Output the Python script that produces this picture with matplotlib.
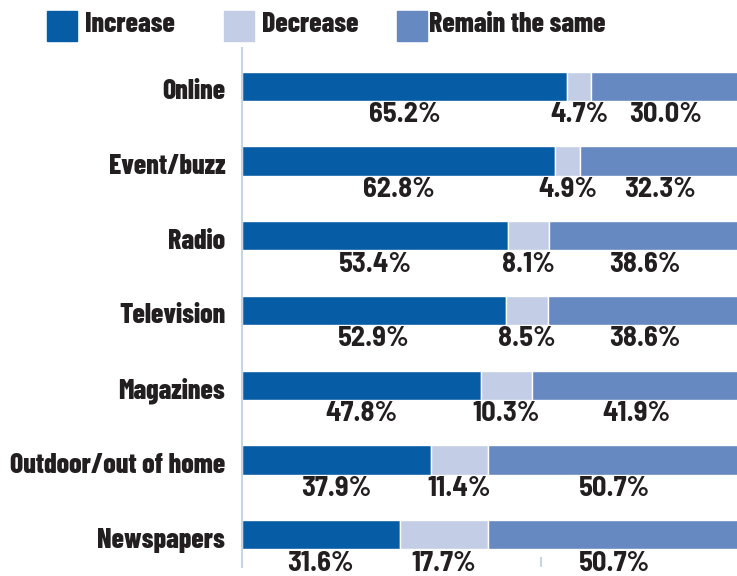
"""Stacked horizontal bars: expected change in ad spending by medium."""
import matplotlib
matplotlib.use("Agg")
import matplotlib.pyplot as plt
from matplotlib.patches import Rectangle
from matplotlib.transforms import ScaledTranslation
import numpy as np

categories = ["Online", "Event/buzz", "Radio", "Television", "Magazines",
              "Outdoor/out of home", "Newspapers"]
increase = [65.2, 62.8, 53.4, 52.9, 47.8, 37.9, 31.6]
decrease = [4.7, 4.9, 8.1, 8.5, 10.3, 11.4, 17.7]
remain = [30.0, 32.3, 38.6, 38.6, 41.9, 50.7, 50.7]
series_names = ["Increase", "Decrease", "Remain the same"]
colors = ["#065ca5", "#c3cde5", "#6689c1"]

W, H = 737, 576
fig = plt.figure(figsize=(W / 100, H / 100), dpi=100)
ax = fig.add_axes([242 / W, 9 / H, 499 / W, 519 / H])

label_font = dict(family=["Barlow Condensed", "DejaVu Sans"], weight=800,
                  color="#231f20")
pct_font = dict(family=["Barlow Semi Condensed", "DejaVu Sans"], weight="bold",
                color="#231f20")

y = np.arange(len(categories))
left = np.zeros(len(categories))
for vals, name, c in zip([increase, decrease, remain], series_names, colors):
    vals = np.array(vals)
    ax.barh(y, vals, left=left, height=0.39, color=c, edgecolor="white",
            linewidth=1, zorder=2)
    for yi, l, v in zip(y, left, vals):
        ax.text(l + v / 2, yi + 0.38, f"{v:.1f}%", ha="center", va="center",
                fontsize=20.5, zorder=4,
                bbox=dict(facecolor="white", edgecolor="none", pad=0.5),
                **pct_font)
    left = left + vals

ax.set_xlim(0, 100)
ax.set_ylim(6.43, -0.51)
ax.set_yticks(y)
ax.set_yticklabels(categories, fontsize=20, **label_font)
ax.tick_params(axis="y", length=0, pad=12)
shift = ScaledTranslation(0, -3 / 100, fig.dpi_scale_trans)
for lab in ax.get_yticklabels():
    lab.set_transform(lab.get_transform() + shift)
ax.set_xticks([0, 20, 40, 60, 80, 100])
ax.set_xticklabels([])
ax.tick_params(axis="x", direction="in", length=7, color="#c6d6e8", width=1.5)
for s in ["top", "right", "bottom"]:
    ax.spines[s].set_visible(False)
ax.spines["left"].set_color("#c6d6e8")
ax.spines["left"].set_linewidth(1.5)

# legend
legend_x = [47, 224, 397]
text_x = [85, 262, 429]
for lx, tx, name, c in zip(legend_x, text_x, series_names, colors):
    fig.add_artist(Rectangle((lx / W, 1 - 41 / H), 30 / W, 30 / H,
                             transform=fig.transFigure, color=c))
    fig.text(tx / W, 1 - 25 / H, name, ha="left", va="center", fontsize=20,
             **label_font)

fig.savefig("out.png", dpi=100)
